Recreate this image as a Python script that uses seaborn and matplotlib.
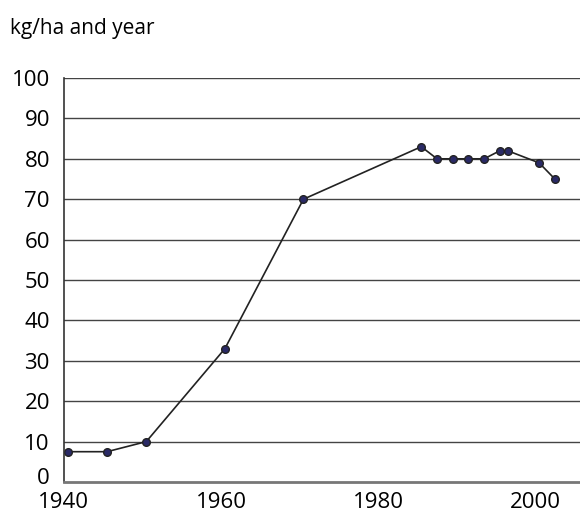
import matplotlib
matplotlib.use("Agg")
import matplotlib.pyplot as plt
import matplotlib.transforms as mtransforms
import seaborn as sns
import pandas as pd

# data
years = [1940.5, 1945.5, 1950.5, 1960.5, 1970.5, 1985.5, 1987.5, 1989.5,
         1991.5, 1993.5, 1995.5, 1996.5, 2000.5, 2002.5]
values = [7.5, 7.5, 10, 33, 70, 83, 80, 80, 80, 80, 82, 82, 79, 75]
x_ticks = [1940, 1960, 1980, 2000]
y_ticks = [0, 10, 20, 30, 40, 50, 60, 70, 80, 90, 100]

df = pd.DataFrame({"year": years, "value": values})

sns.set_style("white")
plt.rcParams["font.family"] = ["Open Sans", "DejaVu Sans"]
plt.rcParams["text.color"] = "black"

fig = plt.figure(figsize=(5.8, 5.12), dpi=100)
ax = fig.add_axes([0.11, 0.0586, 0.89, 0.789])

sns.lineplot(data=df, x="year", y="value", ax=ax, color="#222222",
             linewidth=1.2, marker="o", markersize=5.5,
             markerfacecolor="#2a2a66", markeredgecolor="#222222",
             markeredgewidth=1.0)

ax.set_xlim(1940, 2005.7)
ax.set_ylim(0, 100)
ax.set_xticks(x_ticks)
ax.set_yticks(y_ticks)
ax.set_xlabel("")
ax.set_ylabel("")

for y in y_ticks[1:]:
    ax.axhline(y, color="#444444", linewidth=1.0, zorder=0)

for side in ["top", "right"]:
    ax.spines[side].set_visible(False)
ax.spines["left"].set_color("#333333")
ax.spines["left"].set_linewidth(1.2)
ax.spines["bottom"].set_color("#777777")
ax.spines["bottom"].set_linewidth(2.0)

ax.tick_params(axis="y", length=6, width=1, color="#444444", labelsize=16, pad=4)
ax.tick_params(axis="x", length=3, width=1, color="#444444", labelsize=16, pad=4)
ax.tick_params(axis="both", labelcolor="black")

# nudge the "0" label up a little so it clears "1940"
lbl0 = ax.get_yticklabels()[0]
lbl0.set_transform(lbl0.get_transform() +
                   mtransforms.ScaledTranslation(0, 4 / 72, fig.dpi_scale_trans))

fig.text(0.017, 0.945, "kg/ha and year", fontsize=15, color="black",
         ha="left", va="center")

fig.savefig("out.png", dpi=100)
